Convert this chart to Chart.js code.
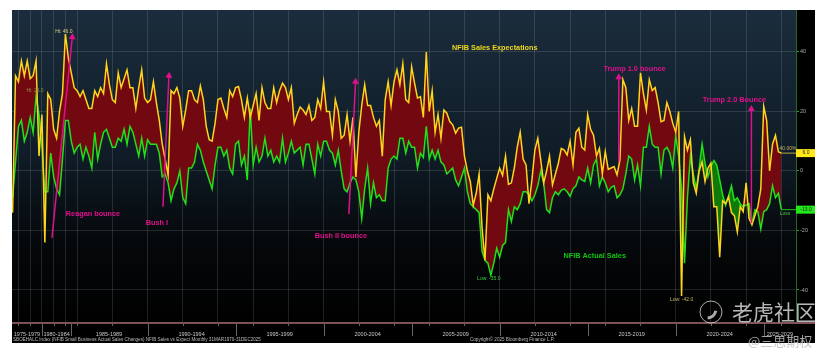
<!DOCTYPE html>
<html>
<head>
<meta charset="utf-8">
<title>NFIB Sales vs Expectations</title>
<script src="https://cdn.jsdelivr.net/npm/chart.js@4/dist/chart.umd.min.js"></script>
<style>
  body { margin: 0; background: #fff; }
  canvas { display: block; }
</style>
</head>
<body>
<canvas id="myChart" width="832" height="360"></canvas>
<script>
// one value for every second observation, quarterly until 1986, monthly after that
const salesExpectations = [
  -14, 32, 30, 37, 32, 37, 31, 32, 37, 5,
  19, -24, 26, 24, 14, 11, 20, 26, 46, 38,
  33, 28, 27, 25, 27, 24, 21, 21, 27, 25,
  28, 26, 36, 29, 24, 23, 33, 28, 31, 34,
  28, 28, 21, 28, 34, 24.5, 23, 24, 30, 23,
  17, 9, 4, -1.3, 27, 26, 28, 24.5, 15, 20.5,
  27, 27, 24, 23, 28.6, 24, 15, 10.5, 10, 16,
  24, 24.5, 21, 18, 27, 25, 28, 28.4, 24, 18,
  24.5, 18, 22, 26, 17, 28, 23, 21, 21, 28,
  23, 27, 29.5, 28, 24, 28, 16, 19, 21.5, 20.5,
  19, 22, 17, 18, 24, 21, 30, 20, 20, 12,
  24, 20, 11, 12, 19, 10, 18, -2, 13, 22,
  29, 22, 22, 18, 15, 17, 5, 24, 30, 22,
  30, 34, 29, 36, 24, 23, 35, 29.5, 24.5, 25,
  18, 40, 20, 27, 13, 19, 11, 20.5, 19.4, 16.6,
  15.5, 12.7, 14.4, 14.7, 5, 0, -3.6, -11.5, -7.5, -1,
  -19, -30, -8, -10, -6, -2.5, 1, -1.5, 5, -4.5,
  -4, 1, 8, 13, 4, 2, -11, -3, 7, 11,
  3.7, -4, 0, 5, -4.7, -1, 2.6, 7.6, 7, 5.4,
  10, 2, 13, 14.4, 8, 7, 19, 14, 12, 5,
  7.6, -1, 6.5, 0.5, 1, 1.5, -1.3, 3.7, 30.7, 28,
  17, 21, 15, 15, 33, 26, 20.5, 30.7, 27, 28,
  23, 16.6, 17, 23, 20, 16, 13, 20, -42, 11.5,
  7, 10.5, -4, -7.5, 0, 3, -3.6, 1, 2.6, -12,
  -12, -29, -10, -11, -8.6, -14, -15, -20.5, -12, -13.7,
  -4, -16, -18, -15, -12, -6, 21.7, 17, 0, 9,
  12, 6.5, 6
];

const actualSales = [
  -9, 3, 15, 17, 10, 13, 18, 13, 25, 19,
  8, -7, -7, 6, -2, -6, -8, 4, 17, 17,
  10, 6, 8, 9, 4, 8, 5, 1, 13, 4,
  9, 13, 14, 11, 8, 8, 11, 10, 14, 9,
  15, 13, 9, 5, 11, 5, 10.5, 9, 9, 9,
  6, -2, -1, -4, -10, -6, -4, 0, -9, -11,
  1, 1, 3, 9, 7, 3, 0, -3, -6, 2,
  8, 8, 5, 7, 1, -1, 9, 10, 2, 5,
  -3, 21, 2, 8, 3, 5, 11, 5, 7, 3,
  5, 3, 11, 3, 6, 10, 6, 7, 8, 2,
  9, 9, 4, -1, 9, 5, 10, 10, 7, 6,
  2, 7, 0, -6, -7, -4, -2, -3, -7, -16,
  -6, 1, -11, -4, -9, -8, -10, -10, 1, 4,
  5, 4, 11, 11, 6, 10, 8, 8, 1, 6,
  4.5, 15, 4, 7, 4, 7, 3, 2, -1, 0,
  1, -3, -5, -2, 1, -7, -11, -12, -13, -14,
  -27, -30, -31, -35, -31, -26, -29, -25, -24, -13,
  -17, -12, -13, -11, -7, -7, -8, -10, -8, -5,
  0, -4, -13, -14, -9, -7, -8, -6.5, -6, -7,
  -8.5, -6, -5, -2, -3, -3.5, 1, -4, 2, 4,
  -5, -2, -4, -7, -5.5, -5, -9, -8, -6, -1,
  5, 4, -3, 2, -5, 8, 8, 15, 9, 8,
  8, -1, 7, 8, 6, 1, 12, 5, -6, -31,
  -9, 5, -1, -6, 1, 9, 2.6, -2, 1.5, 3.5,
  2, -3, -8, -11.5, -8.6, -5, -10, -9, -11, -12,
  -11.5, -11, -17.6, -13, -13.7, -19.5, -13.7, -13, -11, -5,
  -9, -7.5, -13
];

const observations = salesExpectations.map(function(v, i) { return i * 2; });

const yTickValues = [-40, -20, 0, 20, 40];
const gridObservations = [4, 12, 20, 28, 36, 44, 68, 92, 116, 140, 164, 188, 212, 236, 260, 284, 308, 332, 356, 380, 404, 428, 452, 476, 500, 524];
const periodLabels = ['1975-1979', '1980-1984', '1985-1989', '1990-1994', '1995-1999', '2000-2004', '2005-2009', '2010-2014', '2015-2019', '2020-2024', '2025-2029'];
const periodCentres = [9.8, 30, 65.7, 122, 182, 242, 302, 362, 422, 482, 523];
const periodDividers = [20, 40, 92, 152, 212, 272, 332, 392, 452, 512];

// bounce arrows, tail then tip
const reaganArrow = [{x: 26.8, y: -22.5}, {x: 40.7, y: 45}];
const bushArrow = [{x: 102.5, y: -12}, {x: 106.6, y: 32}];
const bush2Arrow = [{x: 229.2, y: -14.5}, {x: 233.8, y: 30}];
const trump1Arrow = [{x: 413.2, y: 3}, {x: 413.2, y: 31.5}];
const trump2Arrow = [{x: 503.6, y: -17.5}, {x: 503.6, y: 20.8}];

const noteTexts = ['NFIB Sales Expectations', 'NFIB Actual Sales', 'Reagan bounce', 'Bush I', 'Bush II bounce', 'Trump 1.0 bounce', 'Trump 2.0 Bounce'];
const noteObs = [328.7, 396.8, 54.8, 98.4, 223.8, 424, 492];
const noteVals = [41.3, -28.6, -14.5, -17.5, -21.8, 34.3, 23.9];
const noteColors = ['#ecd81e', '#12c412', '#e0108c', '#e0108c', '#e0108c', '#e0108c', '#e0108c'];

const extremeTexts = ['Hi: 46.0', 'Hi: 25.0', 'Low: -35.0', 'Low: -42.0'];
const extremeObs = [35, 15.3, 324.6, 456];
const extremeVals = [46.7, 26.9, -36.3, -43.4];
const extremeColors = ['#d8d27a', '#8f9440', '#3fc83f', '#c9b45a'];

const lastExpect = 6;
const lastActual = -13;

const magenta = '#e0108c';

function arrowDataset(points, turn) {
  return {
    data: points,
    borderColor: magenta,
    borderWidth: 1.5,
    pointStyle: 'triangle',
    pointRadius: [0, 4],
    pointRotation: [0, turn],
    pointBackgroundColor: magenta,
    pointBorderColor: magenta,
    pointBorderWidth: 0,
    fill: false
  };
}

function makePoints(values) {
  return values.map(function(v, i) { return {x: observations[i], y: v}; });
}

const backdrop = {
  id: 'backdrop',
  beforeDraw: function(chart) {
    const c = chart.ctx, a = chart.chartArea;
    c.save();
    c.fillStyle = '#fff';
    c.fillRect(0, 0, 832, 360);
    c.fillStyle = '#000';
    c.fillRect(a.left, a.top, 815 - a.left, 343 - a.top);
    const g = c.createLinearGradient(0, a.top, 0, a.bottom);
    g.addColorStop(0, '#1b2c3c');
    g.addColorStop(0.45, '#101d28');
    g.addColorStop(0.75, '#05080a');
    g.addColorStop(1, '#000');
    c.fillStyle = g;
    c.fillRect(a.left, a.top, a.width, a.height);
    c.restore();
  }
};

const notes = {
  id: 'notes',
  afterDraw: function(chart) {
    const c = chart.ctx, x = chart.scales.x, y = chart.scales.y, a = chart.chartArea;
    c.save();

    // strip under the plot
    c.fillStyle = '#7d5358';
    c.fillRect(a.left, a.bottom, 815 - a.left, 2);
    c.strokeStyle = '#666';
    c.lineWidth = 1;
    periodDividers.forEach(function(o) {
      const px = Math.round(x.getPixelForValue(o)) + 0.5;
      c.beginPath();
      c.moveTo(px, a.bottom + 2);
      c.lineTo(px, a.bottom + 14);
      c.stroke();
    });
    gridObservations.forEach(function(o) {
      const px = Math.round(x.getPixelForValue(o)) + 0.5;
      c.beginPath();
      c.moveTo(px, a.bottom + 2);
      c.lineTo(px, a.bottom + 4);
      c.stroke();
    });

    c.textAlign = 'center';
    c.textBaseline = 'middle';
    c.font = 'bold 7.3px "Liberation Sans"';
    noteTexts.forEach(function(t, i) {
      c.fillStyle = noteColors[i];
      c.fillText(t, x.getPixelForValue(noteObs[i]), y.getPixelForValue(noteVals[i]));
    });

    c.font = '5px "Liberation Sans"';
    extremeTexts.forEach(function(t, i) {
      c.fillStyle = extremeColors[i];
      c.fillText(t, x.getPixelForValue(extremeObs[i]), y.getPixelForValue(extremeVals[i]));
    });

    // last value tags on the axis
    const yE = y.getPixelForValue(lastExpect), yA = y.getPixelForValue(lastActual);
    c.fillStyle = '#ffe81a';
    c.fillRect(a.right, yE - 4, 19, 8);
    c.fillStyle = '#22e81a';
    c.fillRect(a.right, yA - 4, 19, 8);
    c.fillStyle = '#222';
    c.font = '5px "Liberation Sans"';
    c.fillText(lastExpect.toFixed(1), a.right + 10, yE);
    c.fillText(lastActual.toFixed(1), a.right + 10, yA);
    c.fillStyle = '#c9b45a';
    c.fillText('40.00%', a.right - 8, yE - 4);
    c.fillStyle = '#3fc83f';
    c.fillText('Loss', a.right - 11, yA + 4);

    // footer
    c.textAlign = 'left';
    c.font = '4.6px "Liberation Sans"';
    c.fillStyle = '#bbb';
    c.fillText('SBOEHALC Index (NFIB Small Business Actual Sales Changes) NFIB Sales vs Expect Monthly 31MAR1970-31DEC2025', 13, 340);
    c.fillText('Copyright\u00a9 2025 Bloomberg Finance L.P.', 470, 340);

    // watermark
    c.strokeStyle = 'rgba(215,215,215,0.8)';
    c.lineWidth = 1;
    c.beginPath();
    c.arc(711, 312, 11, 0, Math.PI * 2);
    c.stroke();
    c.lineWidth = 3;
    c.beginPath();
    c.arc(707, 309, 9, 0.2, 1.5);
    c.stroke();
    c.font = '21px "Noto Sans CJK SC"';
    c.fillStyle = 'rgba(215,215,215,0.85)';
    c.fillText('\u8001\u864e\u793e\u533a', 732, 312);
    c.font = '13px "Noto Sans CJK SC"';
    c.fillStyle = 'rgba(190,190,190,0.85)';
    c.fillText('@\u4e09\u601d\u671f\u6743', 748, 341);
    c.restore();
  }
};

window.onload = function() {
  const ctx = document.getElementById('myChart').getContext('2d');

  new Chart(ctx, {
    type: 'line',
    data: {
      datasets: [
        arrowDataset(reaganArrow, 6),
        arrowDataset(bushArrow, 3),
        arrowDataset(bush2Arrow, 3),
        arrowDataset(trump1Arrow, 0),
        arrowDataset(trump2Arrow, 0),
        {
          label: 'NFIB Sales Expectations',
          data: makePoints(salesExpectations),
          borderColor: '#ffd41c',
          borderWidth: 1.5,
          pointRadius: 0,
          fill: {target: 6, above: '#720910', below: '#0d7a0a'}
        },
        {
          label: 'NFIB Actual Sales',
          data: makePoints(actualSales),
          borderColor: '#22e01a',
          borderWidth: 1.5,
          pointRadius: 0,
          fill: false
        },
        // flat leaders from the last points to the axis tags
        {
          data: [{x: 524, y: lastExpect}, {x: 534, y: lastExpect}],
          borderColor: '#b5a84a',
          borderWidth: 1,
          pointRadius: 0,
          fill: false
        },
        {
          data: [{x: 524, y: lastActual}, {x: 534, y: lastActual}],
          borderColor: '#22c01a',
          borderWidth: 1,
          pointRadius: 0,
          fill: false
        }
      ]
    },
    options: {
      responsive: false,
      animation: false,
      layout: {padding: {left: 12, right: 17, top: 10, bottom: 17}},
      plugins: {
        legend: {display: false},
        tooltip: {enabled: false},
        filler: {drawTime: 'beforeDatasetsDraw'}
      },
      scales: {
        x: {
          type: 'linear',
          min: -0.4,
          max: 534,
          afterBuildTicks: function(axis) {
            axis.ticks = gridObservations.map(function(v) { return {value: v}; });
          },
          afterFit: function(axis) { axis.height = 0; },
          ticks: {display: false},
          grid: {color: 'rgba(205,215,225,0.15)', drawTicks: false},
          border: {display: false}
        },
        x2: {
          type: 'linear',
          position: 'bottom',
          min: -0.4,
          max: 534,
          afterBuildTicks: function(axis) {
            axis.ticks = periodCentres.map(function(v) { return {value: v}; });
          },
          afterFit: function(axis) { axis.height = 21; },
          ticks: {
            color: '#c8c8c8',
            font: {family: 'Liberation Sans', size: 5.5},
            maxRotation: 0,
            autoSkip: false,
            padding: 1,
            callback: function(value) {
              return periodLabels[periodCentres.indexOf(value)];
            }
          },
          grid: {display: false},
          border: {display: false}
        },
        y: {
          position: 'right',
          min: -50.76,
          max: 54.1,
          afterBuildTicks: function(axis) {
            axis.ticks = yTickValues.map(function(v) { return {value: v}; });
          },
          afterFit: function(axis) { axis.width = 19; },
          ticks: {
            color: '#a8a8a8',
            font: {family: 'Liberation Sans', size: 5.5},
            padding: 1
          },
          grid: {color: 'rgba(205,215,225,0.15)', tickColor: '#2fa02f', tickLength: 3},
          border: {color: '#1f6a24'}
        }
      }
    },
    plugins: [backdrop, notes]
  });
};
</script>
</body>
</html>
